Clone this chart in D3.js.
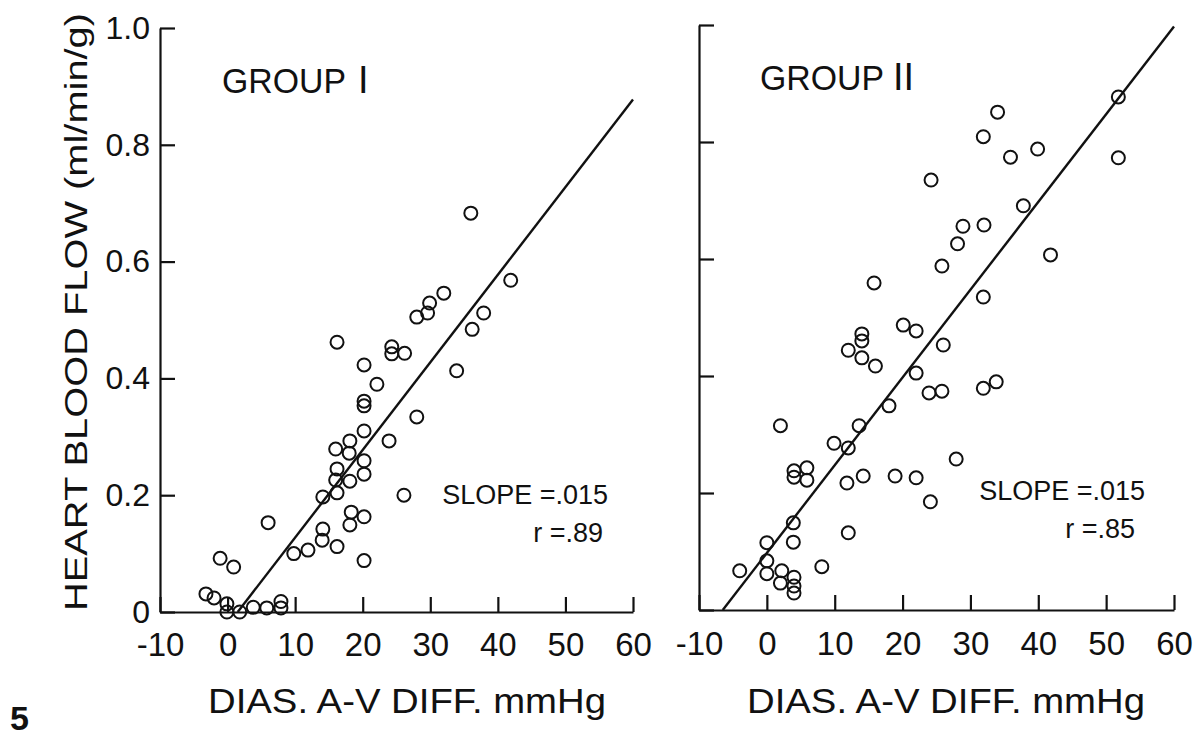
<!DOCTYPE html>
<html>
<head>
<meta charset="utf-8">
<script src="https://cdn.jsdelivr.net/npm/d3@7"></script>
<style>
  body { margin: 0; background: #fff; }
  svg { display: block; }
  text { font-family: "Liberation Sans", "DejaVu Sans", sans-serif; fill: #111; }
  .domain, .tick line { stroke: #111; stroke-width: 2.2; }
</style>
</head>
<body>
<div id="chart"></div>
<script>
// Group I (left panel) - dias. A-V diff (mmHg) and heart blood flow (ml/min/g)
var group1X = [36.0, 41.9, 32.0, 29.9, 29.6, 28.0, 37.9, 36.2, 16.2, 24.3, 24.3, 26.2, 20.2, 33.9,
    22.1, 20.2, 20.2, 28.0, 20.2, 23.9, 18.1, 16.0, 18.0, 20.2, 16.2, 20.2, 18.1, 16.0, 16.2, 14.1,
    26.1, 18.3, 18.1, 20.2, 6.0, 14.1, 14.0, 16.2, 11.9, 9.8, 20.2, -1.1, 0.9, -3.2, -2.0, -0.1,
    -0.1, 1.8, 3.8, 5.8, 7.9, 7.9];
var group1Y = [0.683, 0.568, 0.546, 0.529, 0.512, 0.505, 0.512, 0.484, 0.462, 0.454, 0.442, 0.443, 0.423, 0.413,
    0.390, 0.361, 0.353, 0.334, 0.310, 0.293, 0.293, 0.279, 0.272, 0.259, 0.245, 0.236, 0.224, 0.226, 0.204, 0.197,
    0.200, 0.171, 0.149, 0.163, 0.153, 0.142, 0.123, 0.112, 0.106, 0.100, 0.088, 0.092, 0.077, 0.031, 0.024, 0.014,
    0.0, 0.0, 0.008, 0.007, 0.018, 0.007];

// Group II (right panel)
var group2X = [51.8, 34.0, 31.9, 39.9, 35.9, 51.8, 24.2, 37.8, 28.9, 32.0, 28.1, 41.8, 25.8, 15.8,
    31.9, 20.1, 22.0, 14.0, 14.0, 12.0, 26.0, 14.0, 16.0, 22.0, 33.8, 31.9, 25.8, 23.9, 18.0, 13.6,
    2.0, 9.9, 12.0, 27.9, 4.0, 5.9, 4.0, 5.9, 14.2, 18.9, 22.0, 11.8, 24.1, 3.9, 12.0, 0.0, 3.9,
    8.1, 0.0, -4.0, 0.0, 2.2, 2.0, 4.0, 4.0, 4.0];
var group2Y = [0.877, 0.851, 0.809, 0.788, 0.774, 0.773, 0.735, 0.691, 0.656, 0.658, 0.626, 0.607, 0.588, 0.559,
    0.535, 0.487, 0.477, 0.472, 0.460, 0.444, 0.453, 0.431, 0.417, 0.405, 0.390, 0.379, 0.374, 0.371, 0.349, 0.315,
    0.315, 0.285, 0.277, 0.258, 0.238, 0.243, 0.227, 0.222, 0.229, 0.229, 0.226, 0.217, 0.185, 0.149, 0.132, 0.115, 0.116,
    0.074, 0.084, 0.067, 0.062, 0.067, 0.046, 0.056, 0.041, 0.029];

// regression lines: slope and x where flow = 0, drawn up to x = 60
var fitSlope = 0.015;
var fit1Start = 1.5;
var fit2Start = -6.5;
var fitEnd = 60;

var xTicks = [-10, 0, 10, 20, 30, 40, 50, 60];
var yTicks = [0, 0.2, 0.4, 0.6, 0.8, 1.0];

var w = 1202;
var h = 739;

var svg = d3.select("#chart")
    .append("svg")
    .attr("width", w)
    .attr("height", h);

function drawPanel(opts) {
    var xScale = d3.scaleLinear().domain([-10, 60]).range(opts.xRange);
    var yScale = d3.scaleLinear().domain([0, 1]).range(opts.yRange);
    var x0 = opts.xRange[0];
    var y0 = opts.yRange[0];

    var g = svg.append("g");

    // x axis, ticks pointing up
    g.append("g")
        .attr("transform", "translate(0," + y0 + ")")
        .call(d3.axisBottom(xScale)
            .tickValues(xTicks)
            .tickSize(-15)
            .tickSizeOuter(0)
            .tickPadding(opts.xPad)
            .tickFormat(function(d) { return String(d); }))
        .call(function(s) {
            s.selectAll("text").attr("font-size", 33).attr("font-family", "Liberation Sans");
        });

    // y axis, ticks pointing right
    g.append("g")
        .attr("transform", "translate(" + x0 + ",0)")
        .call(d3.axisLeft(yScale)
            .tickValues(yTicks)
            .tickSize(-15)
            .tickSizeOuter(0)
            .tickPadding(10)
            .tickFormat(function(d) {
                if (!opts.yLabels) return "";
                return d === 0 ? "0" : d3.format(".1f")(d);
            }))
        .call(function(s) {
            s.selectAll("text").attr("font-size", 32).attr("font-family", "Liberation Sans");
        });

    // fit line
    g.append("line")
        .attr("x1", xScale(opts.fitStart))
        .attr("y1", yScale(0))
        .attr("x2", xScale(fitEnd))
        .attr("y2", yScale(fitSlope * (fitEnd - opts.fitStart)))
        .attr("stroke", "#111")
        .attr("stroke-width", 2.4);

    // points
    g.selectAll(".pt")
        .data(d3.zip(opts.xs, opts.ys))
        .enter()
        .append("circle")
        .attr("class", "pt")
        .attr("cx", function(d) { return xScale(d[0]); })
        .attr("cy", function(d) { return yScale(d[1]); })
        .attr("r", 6.5)
        .attr("fill", "none")
        .attr("stroke", "#111")
        .attr("stroke-width", 2);

    // group title: word plus roman numeral
    g.append("text")
        .attr("x", opts.titleX)
        .attr("y", opts.titleY)
        .attr("font-size", 35)
        .attr("textLength", 124)
        .attr("lengthAdjust", "spacingAndGlyphs")
        .text("GROUP");
    g.append("text")
        .attr("x", opts.numX)
        .attr("y", opts.titleY)
        .attr("font-size", 38)
        .attr("font-family", "Liberation Serif")
        .text(opts.numeral);

    // slope / r annotation
    g.append("text")
        .attr("x", opts.statX)
        .attr("y", opts.statY)
        .attr("text-anchor", "end")
        .attr("font-size", 27)
        .text("SLOPE =.015");
    g.append("text")
        .attr("x", opts.rX)
        .attr("y", opts.statY + 38)
        .attr("text-anchor", "end")
        .attr("font-size", 27)
        .text("r =" + opts.r);

    // x axis title
    g.append("text")
        .attr("x", opts.xTitleX)
        .attr("y", 713)
        .attr("font-size", 35)
        .attr("textLength", 398)
        .attr("lengthAdjust", "spacingAndGlyphs")
        .text("DIAS. A-V DIFF. mmHg");
}

drawPanel({
    xRange: [160, 633], yRange: [612, 28], xPad: 21,
    xs: group1X, ys: group1Y, fitStart: fit1Start,
    yLabels: true, numeral: "I", r: ".89",
    titleX: 222, numX: 358, titleY: 93,
    statX: 608, rX: 603, statY: 504, xTitleX: 208
});

drawPanel({
    xRange: [699, 1174], yRange: [610, 25], xPad: 22,
    xs: group2X, ys: group2Y, fitStart: fit2Start,
    yLabels: false, numeral: "II", r: ".85",
    titleX: 760, numX: 893, titleY: 90,
    statX: 1145, rX: 1135, statY: 500, xTitleX: 747
});

// y axis title
svg.append("text")
    .attr("transform", "translate(87,312) rotate(-90)")
    .attr("text-anchor", "middle")
    .attr("font-size", 32)
    .attr("textLength", 598)
    .attr("lengthAdjust", "spacingAndGlyphs")
    .text("HEART BLOOD FLOW (ml/min/g)");

// figure number
svg.append("text")
    .attr("x", 10)
    .attr("y", 730)
    .attr("font-size", 34)
    .attr("font-weight", "bold")
    .text("5");
</script>
</body>
</html>
